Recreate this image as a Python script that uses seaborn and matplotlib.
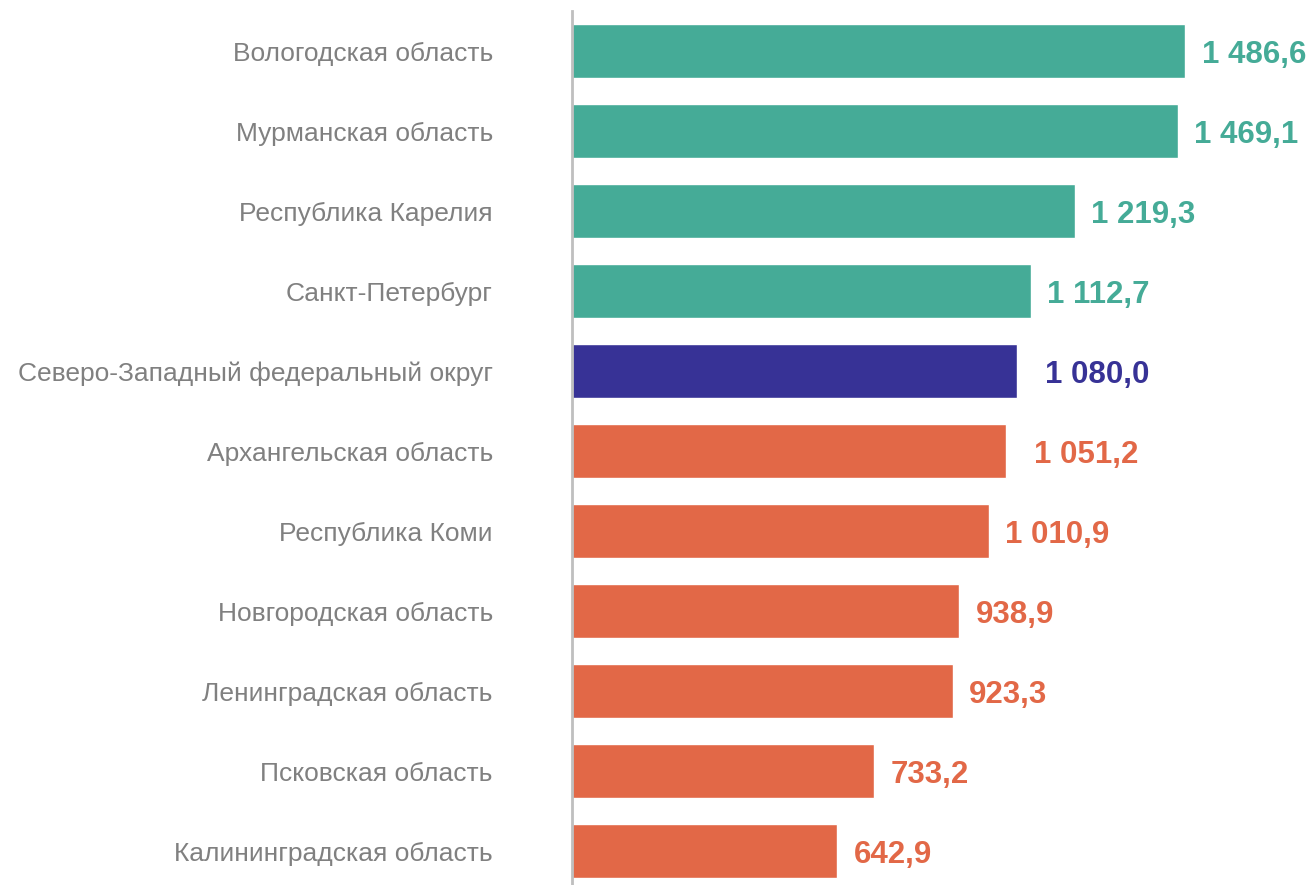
import pandas as pd
import seaborn as sns
import matplotlib.pyplot as plt

sns.set_style("white")
plt.rcParams['font.family'] = ['Liberation Sans', 'DejaVu Sans']

regions = [
    "Вологодская область",
    "Мурманская область",
    "Республика Карелия",
    "Санкт-Петербург",
    "Северо-Западный федеральный округ",
    "Архангельская область",
    "Республика Коми",
    "Новгородская область",
    "Ленинградская область",
    "Псковская область",
    "Калининградская область",
]
values = [1486.6, 1469.1, 1219.3, 1112.7, 1080.0, 1051.2, 1010.9, 938.9, 923.3, 733.2, 642.9]
groups = ["above", "above", "above", "above", "district",
          "below", "below", "below", "below", "below", "below"]

palette = {"above": "#45AB97", "district": "#373296", "below": "#E26847"}
# отступы подписей (в единицах оси x), две подписи сдвинуты дальше
label_pad = [40, 40, 40, 40, 68, 68, 40, 40, 40, 40, 40]

df = pd.DataFrame({"region": regions, "value": values, "group": groups})

fig = plt.figure(figsize=(13.11, 8.85), dpi=100)
ax = fig.add_axes([572 / 1311, 0, 1 - 572 / 1311, 1 - 11 / 885])

sns.barplot(data=df, y="region", x="value", hue="group", palette=palette,
            orient="h", width=0.675, dodge=False, legend=False, ax=ax,
            saturation=1)

for i, (v, g) in enumerate(zip(values, groups)):
    txt = f"{v:,.1f}".replace(",", " ").replace(".", ",")
    ax.text(v + label_pad[i], i + 0.05, txt, ha="left", va="center",
            fontsize=22.5, fontweight="bold", color=palette[g])

ax.set_xlim(0, 1792)
ax.set_ylim(10.42, -0.5)
ax.set_xlabel("")
ax.set_ylabel("")
ax.set_xticks([])
ax.tick_params(axis="y", length=0, pad=57, labelsize=19, labelcolor="#808080")

for s in ["top", "right", "bottom"]:
    ax.spines[s].set_visible(False)
ax.spines["left"].set_color("#BFBFBF")
ax.spines["left"].set_linewidth(2)

fig.savefig("out.png", dpi=100)
